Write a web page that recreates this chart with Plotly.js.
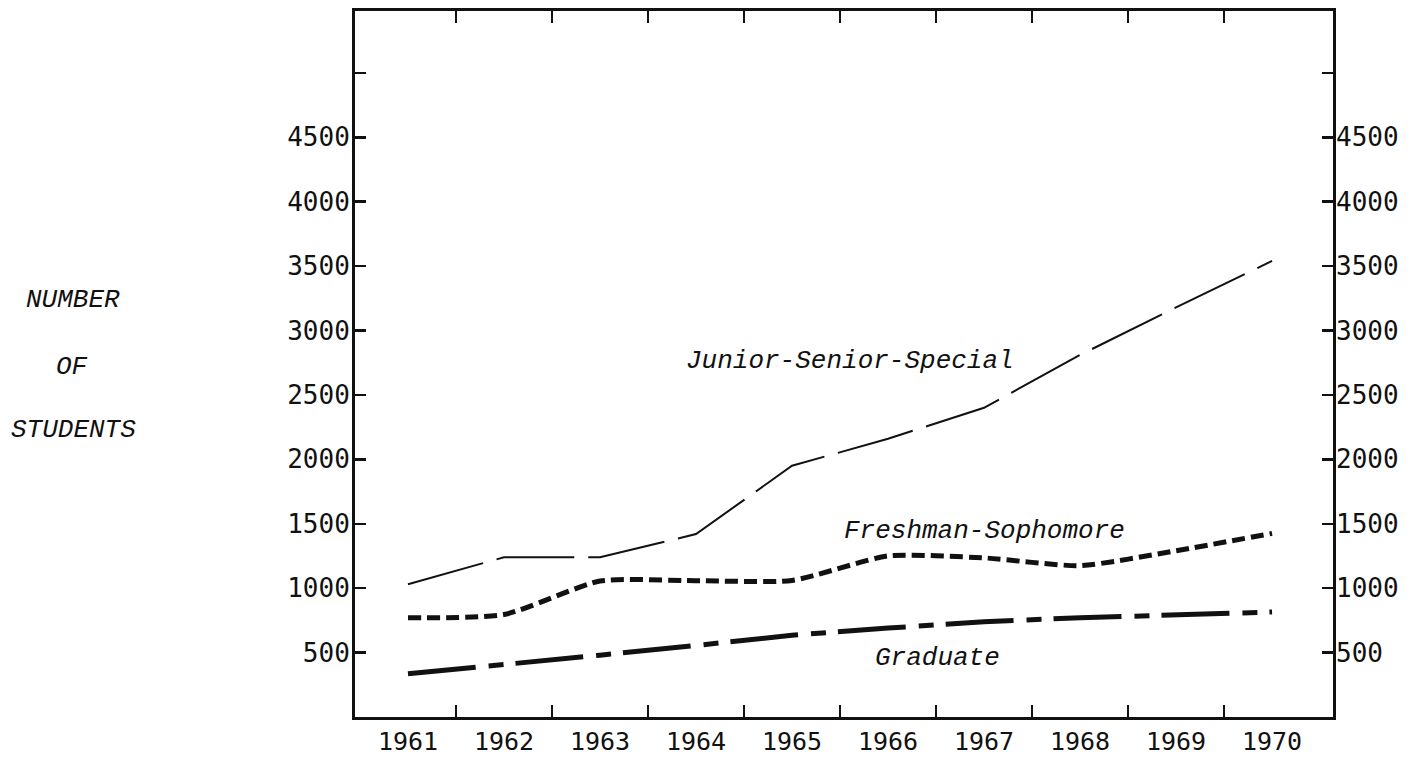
<!DOCTYPE html>
<html>
<head>
<meta charset="utf-8">
<script src="https://cdn.plot.ly/plotly-3.0.1.min.js"></script>
<style>html,body{margin:0;padding:0;background:#fff;}#chart{width:1415px;height:761px;}</style>
</head>
<body>
<div id="chart"></div>
<script>
const years = [1961, 1962, 1963, 1964, 1965, 1966, 1967, 1968, 1969, 1970];
const juniorSeniorSpecial = [1030, 1240, 1240, 1420, 1950, 2160, 2400, 2810, 3180, 3540];
const freshmanSophomore = [770, 795, 1055, 1058, 1060, 1250, 1235, 1175, 1290, 1425];
const graduate = [335, 405, 480, 555, 635, 690, 740, 770, 790, 815];
const yTickValues = [500, 1000, 1500, 2000, 2500, 3000, 3500, 4000, 4500, 5000];
const yTickLabels = ['500', '1000', '1500', '2000', '2500', '3000', '3500', '4000', '4500', ''];
const seriesLabels = ['Junior-Senior-Special', 'Freshman-Sophomore', 'Graduate'];
const yTitleWords = ['NUMBER', 'OF', 'STUDENTS'];

const boundaries = years.slice(1).map(v => v - 0.5);
const tickFont = {family: 'DejaVu Sans Mono', size: 26, color: '#111'};
const xTickFont = {family: 'DejaVu Sans Mono', size: 25, color: '#111'};
const labelFont = {family: 'Liberation Mono', size: 26, color: '#111', style: 'italic'};

const traces = [
  {x: years, y: juniorSeniorSpecial, type: 'scatter', mode: 'lines', name: seriesLabels[0],
   line: {color: '#111', width: 2, dash: '78px,14px'}, xaxis: 'x', yaxis: 'y'},
  {x: years, y: freshmanSophomore, type: 'scatter', mode: 'lines', name: seriesLabels[1],
   line: {color: '#111', width: 5, dash: '13px,6px', shape: 'spline', smoothing: 0.6}, xaxis: 'x', yaxis: 'y'},
  {x: years, y: graduate, type: 'scatter', mode: 'lines', name: seriesLabels[2],
   line: {color: '#111', width: 5, dash: '68px,13px,15px,12px'}, xaxis: 'x', yaxis: 'y2'}
];

const yRange = [0, 5480];
const layout = {
  width: 1415, height: 761,
  margin: {l: 355, r: 82, t: 11, b: 44, pad: 0},
  paper_bgcolor: '#fff', plot_bgcolor: '#fff',
  showlegend: false,
  xaxis: {
    type: 'linear', range: [1960.448, 1970.635],
    tickmode: 'array', tickvals: years, ticktext: years.map(String),
    ticks: '', showgrid: false, zeroline: false,
    showline: true, linewidth: 3, linecolor: '#111', mirror: 'ticks',
    tickfont: xTickFont, ticklabelstandoff: 0,
    minor: {tickmode: 'array', tickvals: boundaries, ticks: 'inside', ticklen: 12, tickwidth: 2.5, tickcolor: '#111', showgrid: false}
  },
  yaxis: {
    range: yRange, tickmode: 'array', tickvals: yTickValues, ticktext: yTickLabels,
    ticks: 'inside', ticklen: 11, tickwidth: 2.5, tickcolor: '#111',
    showgrid: false, zeroline: false,
    showline: true, linewidth: 3, linecolor: '#111', mirror: 'ticks',
    tickfont: tickFont, ticklabelstandoff: -3
  },
  yaxis2: {
    range: yRange, overlaying: 'y', side: 'right', anchor: 'x',
    tickmode: 'array', tickvals: yTickValues, ticktext: yTickLabels,
    ticks: '', showgrid: false, zeroline: false, showline: false,
    tickfont: tickFont, ticklabelstandoff: 2
  },
  annotations: [
    {x: 1965.6, y: 2763, xref: 'x', yref: 'y', text: seriesLabels[0], showarrow: false, font: labelFont},
    {x: 1967.01, y: 1447, xref: 'x', yref: 'y', text: seriesLabels[1], showarrow: false, font: labelFont},
    {x: 1966.52, y: 455, xref: 'x', yref: 'y', text: seriesLabels[2], showarrow: false, font: labelFont},
    {x: -0.288, y: 3237, xref: 'paper', yref: 'y', xanchor: 'center', text: yTitleWords[0], showarrow: false, font: labelFont},
    {x: -0.289, y: 2716, xref: 'paper', yref: 'y', xanchor: 'center', text: yTitleWords[1], showarrow: false, font: labelFont},
    {x: -0.288, y: 2226, xref: 'paper', yref: 'y', xanchor: 'center', text: yTitleWords[2], showarrow: false, font: labelFont}
  ]
};

Plotly.newPlot('chart', traces, layout, {displayModeBar: false, staticPlot: true});
</script>
</body>
</html>
